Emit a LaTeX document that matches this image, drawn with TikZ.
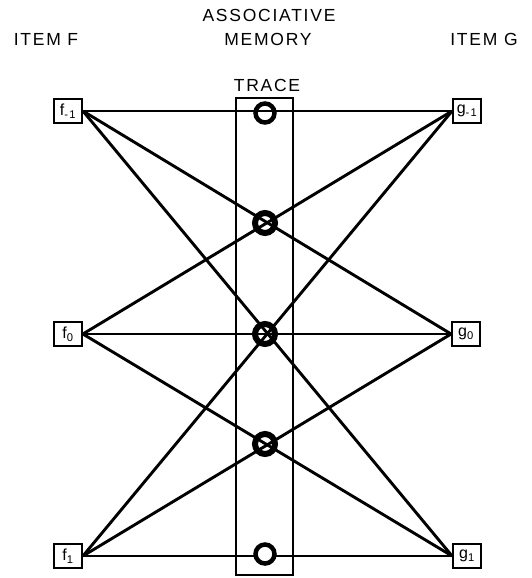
\documentclass[tikz,border=0pt]{standalone}
\usepackage{fontspec}
\setmainfont{Liberation Sans}[LetterSpace=10]
\begin{document}
\begin{tikzpicture}[x=1pt,y=-1pt,
  lbl/.style={font=\fontsize{17.5}{17.5}\selectfont, inner sep=0pt},
  itembox/.style={draw, line width=1.8pt, minimum width=28pt, minimum height=24pt, inner sep=1pt, font=\fontsize{16}{16}\selectfont, fill=white},
  conn/.style={line width=2.9pt},
  ring/.style={circle, draw, line width=4.5pt, minimum size=19pt, inner sep=0pt},
  hub/.style={ring, line width=6pt, minimum size=20pt}]
\useasboundingbox (0,0) rectangle (531,578);
% trace rectangle
\node[draw, line width=2pt, minimum width=57pt, minimum height=477pt, inner sep=0pt] (trace) at (264,336) {};
% items
\node[itembox] (fm) at (68,111) {f\textsubscript{-1}};
\node[itembox] (f0) at (68,334) {f\textsubscript{0}};
\node[itembox] (fp) at (68,556) {f\textsubscript{1}};
\node[itembox] (gm) at (467,111) {g\textsubscript{-1}};
\node[itembox] (g0) at (466,334) {g\textsubscript{0}};
\node[itembox] (gp) at (467,556) {g\textsubscript{1}};
% connections
\foreach \a in {fm,f0,fp}{
  \foreach \b in {gm,g0,gp}{
    \draw[conn] (\a.east) -- (\b.west);
  }
}
% rings
\node[ring] (c1) at (265,113) {};
\node[hub] (c2) at (265,223) {};
\node[hub] (c3) at (265,334) {};
\node[hub] (c4) at (265,444) {};
\node[ring, fill=white] (c5) at (265,554) {};
% labels
\node[lbl] (assoc) at (269,15) {ASSOCIATIVE};
\node[lbl] (memory) at (268,39) {MEMORY};
\node[lbl] (trlbl) at (267,85) {TRACE};
\node[lbl] (itemf) at (46,39) {ITEM F};
\node[lbl] (itemg) at (484,39) {ITEM G};
\end{tikzpicture}
\end{document}
